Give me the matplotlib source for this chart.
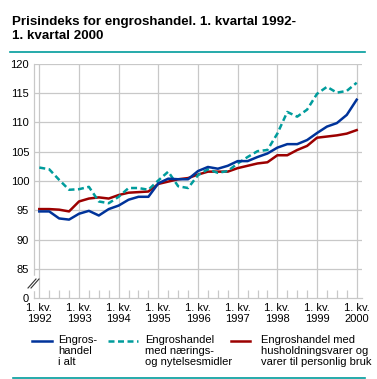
import numpy as np
import matplotlib
matplotlib.use('Agg')
import matplotlib.pyplot as plt
from matplotlib.lines import Line2D
from matplotlib.ticker import MultipleLocator

# --- quarterly values, 1. kv. 1992 .. 1. kv. 2000
quarters = np.arange(33) / 4 + 1992

i_alt = [94.8, 94.8, 93.6, 93.4, 94.4, 94.9, 94.1, 95.2,
         95.8, 96.8, 97.3, 97.3, 99.6, 100.4, 100.3, 100.3,
         101.7, 102.4, 102.1, 102.6, 103.4, 103.4, 104.1, 104.7,
         105.7, 106.3, 106.3, 107.0, 108.2, 109.3, 109.9, 111.3,
         113.9]
naerings = [102.3, 102.0, 100.2, 98.5, 98.6, 99.0, 96.5, 96.2,
            97.3, 98.8, 98.8, 98.5, 100.1, 101.6, 99.1, 98.8,
            101.0, 102.0, 101.4, 101.7, 103.0, 104.1, 105.1, 105.3,
            108.1, 111.8, 111.0, 112.2, 114.9, 116.1, 115.1, 115.4,
            116.8]
hushold = [95.2, 95.2, 95.1, 94.8, 96.5, 97.0, 97.2, 97.0,
           97.6, 98.0, 98.1, 98.2, 99.5, 99.9, 100.3, 100.5,
           101.1, 101.6, 101.6, 101.6, 102.2, 102.6, 103.0, 103.2,
           104.4, 104.4, 105.3, 106.0, 107.4, 107.6, 107.8, 108.1,
           108.7]

years = list(range(1992, 2001))
year_labels = ['1. kv.\n%d' % y for y in years]
ytick_vals = [80, 85, 90, 95, 100, 105, 110, 115, 120]
ytick_labels = ['0', '85', '90', '95', '100', '105', '110', '115', '120']

legend_names = ['Engros-\nhandel\ni alt',
                'Engroshandel\nmed nærings-\nog nytelsesmidler',
                'Engroshandel med\nhusholdningsvarer og\nvarer til personlig bruk']

BLUE = '#00339a'
TEAL = '#009c9c'
RED = '#9c0000'
GRID = '#c8c8c8'

plt.rcParams['font.family'] = ['Liberation Sans', 'DejaVu Sans']
W, H = 377, 379
fig = plt.figure(figsize=(W / 100, H / 100), dpi=100)


def fx(px):
    return px / W


def fy(py):
    return 1 - py / H


ax = fig.add_axes([fx(34), fy(298), fx(362) - fx(34), fy(64) - fy(298)])
ax.set_xlim(1992 - 5.3 / 39.6, 2000 + 5.3 / 39.6)
ax.set_ylim(80, 120)

ax.plot(quarters, i_alt, color=BLUE, lw=1.8, zorder=5)
ax.plot(quarters, naerings, color=TEAL, lw=1.8, dashes=(2.4, 1.4), zorder=4)
ax.plot(quarters, hushold, color=RED, lw=1.8, zorder=3)

# grid
for v in ytick_vals[1:]:
    ax.axhline(v, color=GRID, lw=0.9, zorder=1)
for y in years:
    ax.axvline(y, color=GRID, lw=0.9, zorder=1)

for s in ['top', 'right']:
    ax.spines[s].set_visible(False)
for s in ['left', 'bottom']:
    ax.spines[s].set_color(GRID)
    ax.spines[s].set_linewidth(0.9)

ax.set_yticks(ytick_vals)
ax.set_yticklabels(ytick_labels)
ax.set_xticks(years)
ax.set_xticklabels(year_labels, linespacing=1.2)
ax.xaxis.set_minor_locator(MultipleLocator(0.25))
ax.tick_params(axis='y', length=0, pad=3.5, labelsize=8)
ax.tick_params(axis='x', which='major', length=0, pad=3.5, labelsize=8)
ax.tick_params(axis='x', which='minor', direction='in', length=5.5,
               color=GRID, width=0.9)

# axis break on y axis
ax.add_line(Line2D([ax.get_xlim()[0]] * 2, [81.6, 83.6], color='white',
                   lw=2.5, transform=ax.transData, clip_on=False, zorder=6))
for dx in (0, 3):
    fig.add_artist(Line2D([fx(28 + dx), fx(36 + dx)], [fy(288), fy(279)],
                          color='#333333', lw=0.8))

# title and rules
fig.text(fx(12), fy(16), 'Prisindeks for engroshandel. 1. kvartal 1992-\n1. kvartal 2000',
         fontsize=9.6, fontweight='bold', va='top', ha='left',
         linespacing=1.25)
fig.add_artist(Line2D([fx(10), fx(365)], [fy(52), fy(52)], color=TEAL, lw=1.2))
fig.add_artist(Line2D([fx(13), fx(365)], [fy(378), fy(378)], color=TEAL, lw=1.2))

# legend
samples = [(32, 52, BLUE, None), (108, 138, TEAL, (2.4, 1.4)), (231, 250, RED, None)]
text_x = [58, 145, 261]
for (x0, x1, c, d), tx, name in zip(samples, text_x, legend_names):
    ln = Line2D([fx(x0), fx(x1)], [fy(341), fy(341)], color=c, lw=1.8)
    if d:
        ln.set_dashes(d)
    fig.add_artist(ln)
    fig.text(fx(tx), fy(335), name, fontsize=8, va='top', ha='left',
             linespacing=1.12)

fig.savefig('out.png', dpi=100)
